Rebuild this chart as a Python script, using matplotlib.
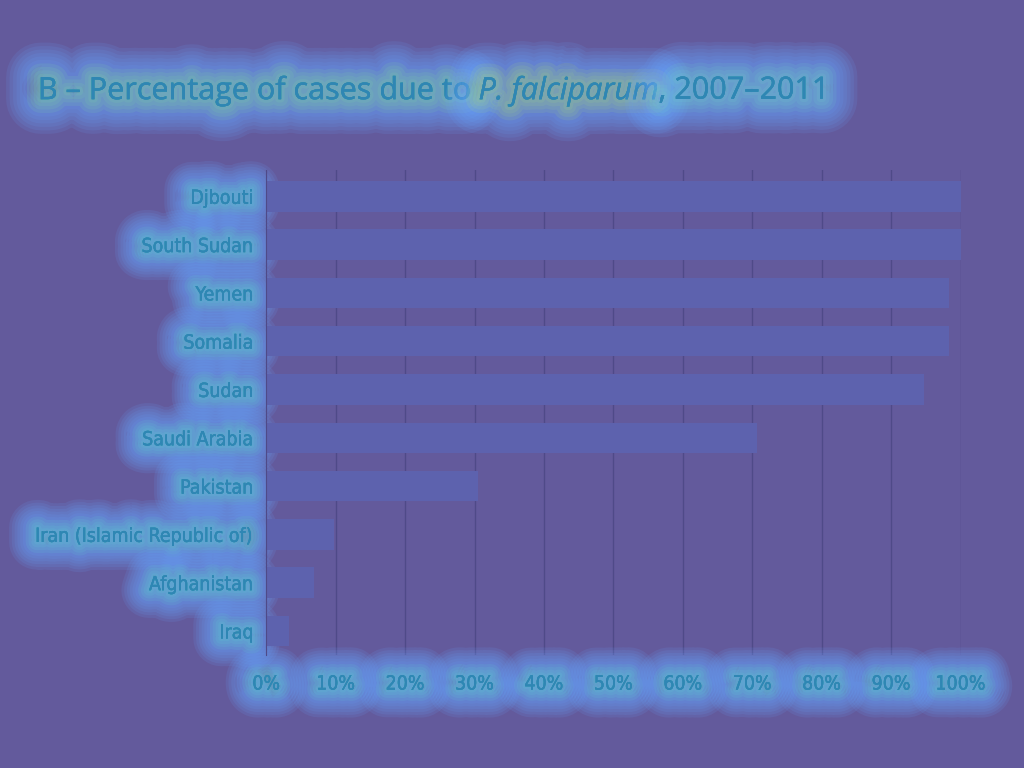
import numpy as np
import matplotlib
matplotlib.use("Agg")
from matplotlib import pyplot as plt
from matplotlib import patheffects as pe

countries = ["Djbouti", "South Sudan", "Yemen", "Somalia", "Sudan", "Saudi Arabia",
             "Pakistan", "Iran (Islamic Republic of)", "Afghanistan", "Iraq"]
pct = [100, 100, 98.4, 98.3, 94.7, 70.7, 30.5, 9.8, 6.9, 3.3]
xticks = [0, 10, 20, 30, 40, 50, 60, 70, 80, 90, 100]
xticklabels = [str(t) + "%" for t in xticks]

bg = "#635a9c"
txt = "#2f86b4"

# soft halo around text, built from many faint strokes
def glow(outer, inner, n=10, wmax=40, alpha=0.12):
    fx = []
    for i in range(n):
        w = wmax * (1 - i / n)
        col = outer if i < n * 0.55 else inner
        fx.append(pe.withStroke(linewidth=w, foreground=col, alpha=alpha))
    fx.append(pe.Normal())
    return fx

fig = plt.figure(figsize=[10.24, 7.68], dpi=100)
fig.patch.set_facecolor(bg)
ax = fig.add_axes([0.26, 0.147, 0.678, 0.632])
ax.set_facecolor(bg)

y = np.arange(len(countries))
ax.barh(y, pct, height=0.63, color="#5d62ae", zorder=2)
ax.set_ylim(len(countries) - 0.5, -0.55)
ax.set_xlim(0, 100)

ax.set_xticks(xticks)
ax.set_xticklabels(xticklabels)
ax.set_yticks(y)
ax.set_yticklabels(countries)
ax.xaxis.grid(True, color="#4f4a88", linewidth=1, zorder=0)
ax.set_axisbelow(True)
ax.tick_params(length=0)
ax.tick_params(axis="x", pad=14)
ax.tick_params(axis="y", pad=9)
for s in ["top", "right", "bottom"]:
    ax.spines[s].set_visible(False)
ax.spines["left"].set_color("#4f4a88")

for lab in ax.get_xticklabels() + ax.get_yticklabels():
    lab.set_family("DejaVu Sans")
    lab.set_stretch("condensed")
    lab.set_fontsize(14)
    lab.set_color(txt)
    lab.set_path_effects(glow("#6aa6ff", "#5fd8d0"))

tfont = ["Open Sans", "DejaVu Sans"]
t = fig.text(0.037, 0.882, "B \u2013 Percentage of cases due to ", fontsize=22,
             color=txt, family=tfont, va="center")
t.set_path_effects(glow("#6aa6ff", "#7fe0a0", wmax=50))
fig.canvas.draw()
x1 = t.get_window_extent().x1 / fig.bbox.width
t2 = fig.text(x1, 0.882, "P. falciparum", fontsize=22, style="italic",
              color=txt, family=tfont, va="center")
t2.set_path_effects(glow("#6aa6ff", "#a8e07a", wmax=50))
fig.canvas.draw()
x2 = t2.get_window_extent().x1 / fig.bbox.width
t3 = fig.text(x2, 0.882, ", 2007\u20132011", fontsize=22,
              color=txt, family=tfont, va="center")
t3.set_path_effects(glow("#6aa6ff", "#70d8c8", wmax=50))

fig.savefig("out.png", dpi=100, facecolor=bg)
